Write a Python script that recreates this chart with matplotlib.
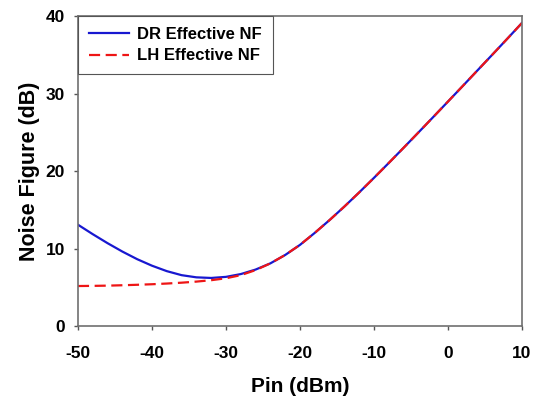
import matplotlib
matplotlib.use("Agg")
import matplotlib.pyplot as plt

# Input power (dBm)
pin = [-50, -48, -46, -44, -42, -40, -38, -36, -34, -32, -30, -28, -26, -24,
       -22, -20, -18, -16, -14, -12, -10, -8, -6, -4, -2, 0, 2, 4, 6, 8, 10]

# DR effective noise figure (dB)
dr_nf = [13.1, 11.88, 10.72, 9.64, 8.66, 7.82, 7.12, 6.6, 6.32, 6.24, 6.38, 6.74,
         7.32, 8.12, 9.2, 10.5, 12.05, 13.7, 15.44, 17.26, 19.14, 21.06, 23.01,
         24.98, 26.97, 28.97, 30.98, 33.0, 35.02, 37.05, 39.1]

# LH effective noise figure (dB)
lh_nf = [5.2, 5.22, 5.25, 5.3, 5.36, 5.43, 5.52, 5.63, 5.77, 5.95, 6.2, 6.6,
         7.25, 8.12, 9.2, 10.5, 12.05, 13.7, 15.44, 17.26, 19.14, 21.06, 23.01,
         24.98, 26.97, 28.97, 30.98, 33.0, 35.02, 37.05, 39.1]

x_ticks = [-50, -40, -30, -20, -10, 0, 10]
y_ticks = [0, 10, 20, 30, 40]

plt.rcParams['font.family'] = ['Liberation Sans', 'DejaVu Sans']
plt.rcParams['font.weight'] = 'bold'
plt.rcParams['axes.unicode_minus'] = False

fig = plt.figure(figsize=(5.34, 3.99), dpi=100)
ax = fig.add_axes([0.146, 0.182, 0.8315, 0.778])

ax.plot(pin, dr_nf, color='#1818d0', lw=1.6, label='DR Effective NF')
ax.plot(pin, lh_nf, color='#ee1515', lw=1.6, dashes=(5, 2.5), label='LH Effective NF')

ax.set_xlim(-50, 10)
ax.set_ylim(0, 40)
ax.set_xticks(x_ticks)
ax.set_yticks(y_ticks)
ax.tick_params(direction='out', length=3, width=1, color='#555555', labelsize=12.5)
ax.tick_params(axis='x', pad=11)
ax.tick_params(axis='y', pad=6.5)
for lab in ax.get_xticklabels() + ax.get_yticklabels():
    lab.set_fontweight('bold')
for sp in ax.spines.values():
    sp.set_color('#707070')
    sp.set_linewidth(1.2)

ax.set_xlabel('Pin (dBm)', fontsize=15, fontweight='bold', labelpad=12)
ax.set_ylabel('Noise Figure (dB)', fontsize=15.5, fontweight='bold', labelpad=4)

leg = ax.legend(loc='upper left', bbox_to_anchor=(0, 1), borderaxespad=0,
                fancybox=False, framealpha=1, edgecolor='#555555',
                prop={'size': 12, 'weight': 'bold'}, handlelength=2.4,
                handletextpad=0.5, labelspacing=0.4, borderpad=0.65)
leg.get_frame().set_linewidth(0.8)

fig.savefig('out.png', dpi=100)
